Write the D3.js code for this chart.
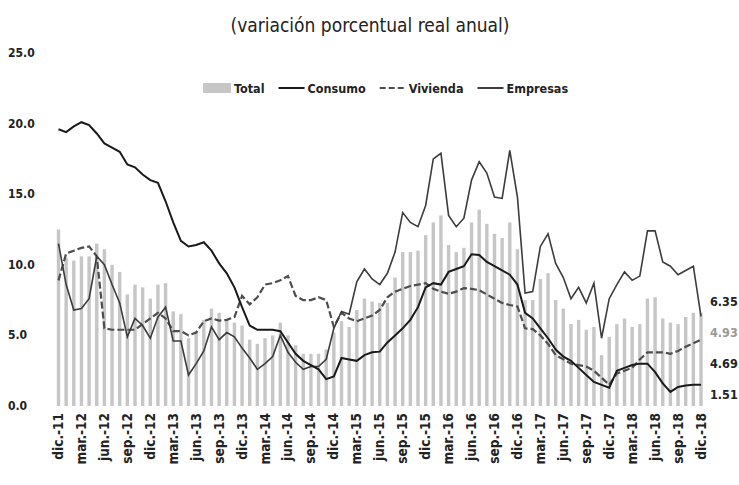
<!DOCTYPE html>
<html>
<head>
<meta charset="utf-8">
<script src="https://cdn.jsdelivr.net/npm/d3@7"></script>
<style>
  body { margin: 0; background: #fff; }
  text { font-family: "Liberation Sans Narrow", "DejaVu Sans Condensed", "Arial Narrow", "Liberation Sans", sans-serif; }
</style>
</head>
<body>
<div id="chart"></div>
<script>
var width = 739,
    height = 485;

// months dic-11 .. dic-18
var mesNames = ["ene.", "feb.", "mar.", "abr.", "may.", "jun.", "jul.", "ago.", "sep.", "oct.", "nov.", "dic."];
var months = ["dic.-11"];
for (var yy = 12; yy <= 18; yy++) {
    mesNames.forEach(function(m) { months.push(m + "-" + yy); });
}

var total = [12.5, 10.5, 10.3, 10.6, 10.6, 11.5, 11.1, 10.0, 9.5, 7.9,
    8.6, 8.4, 7.6, 8.6, 8.7, 6.7, 6.5, 4.8, 5.3, 6.1,
    6.9, 6.6, 6.1, 5.9, 5.7, 4.7, 4.4, 4.8, 5.0, 5.9,
    5.0, 4.3, 3.7, 3.7, 3.7, 4.0, 5.2, 6.0, 5.6, 6.8,
    7.6, 7.4, 7.3, 7.3, 9.1, 10.9, 10.9, 11.0, 12.1, 13.0,
    13.5, 11.4, 10.9, 11.2, 13.0, 13.9, 12.9, 12.2, 11.9, 13.0,
    11.1, 7.5, 7.5, 9.0, 9.4, 7.5, 6.9, 5.8, 6.1, 5.4,
    5.6, 3.6, 4.9, 5.8, 6.2, 5.6, 5.8, 7.6, 7.7, 6.2,
    5.9, 5.8, 6.3, 6.6, 6.6];

var consumo = [19.6, 19.4, 19.8, 20.1, 19.9, 19.3, 18.6, 18.3, 18.0, 17.1,
    16.9, 16.4, 16.0, 15.8, 14.5, 13.0, 11.7, 11.3, 11.4, 11.6,
    11.0, 10.1, 9.4, 8.4, 7.0, 5.7, 5.4, 5.4, 5.4, 5.3,
    4.5, 3.7, 3.2, 2.9, 2.6, 1.9, 2.1, 3.4, 3.3, 3.2,
    3.6, 3.8, 3.85, 4.5, 5.0, 5.5, 6.1, 7.0, 8.4, 8.7,
    8.6, 9.5, 9.7, 9.9, 10.75, 10.7, 10.2, 9.9, 9.6, 9.3,
    8.6, 6.6, 6.2, 5.5, 4.8, 4.0, 3.5, 3.2, 2.7, 2.2,
    1.7, 1.5, 1.3, 2.5, 2.7, 2.9, 3.0, 3.0, 2.4, 1.6,
    1.0, 1.35, 1.45, 1.5, 1.51];

var vivienda = [8.9, 10.8, 11.0, 11.2, 11.3, 10.6, 5.5, 5.4, 5.4, 5.4,
    5.4, 5.8, 6.2, 6.6, 6.2, 5.3, 5.3, 5.0, 5.2, 6.0,
    6.2, 6.05, 6.1, 6.3, 7.8, 7.2, 7.7, 8.6, 8.7, 8.9,
    9.2, 7.8, 7.5, 7.5, 7.7, 7.5, 5.6, 6.6, 6.2, 6.0,
    6.2, 6.4, 6.8, 7.7, 8.1, 8.3, 8.5, 8.6, 8.7, 8.3,
    8.1, 7.95, 8.1, 8.35, 8.3, 8.2, 7.9, 7.6, 7.3, 7.15,
    7.05, 5.5, 5.45, 5.0, 4.4, 3.6, 3.3, 3.0, 2.9, 2.8,
    2.5, 2.0, 1.5, 2.3, 2.5, 2.7, 3.3, 3.8, 3.8, 3.8,
    3.7, 3.9, 4.2, 4.45, 4.69];

var empresas = [11.5, 8.6, 6.8, 6.9, 7.6, 10.6, 10.0, 8.6, 7.3, 4.9,
    6.2, 5.7, 4.8, 6.3, 7.0, 4.6, 4.6, 2.2, 3.0, 3.9,
    5.6, 4.7, 5.2, 4.9, 4.1, 3.4, 2.6, 3.0, 3.5, 5.0,
    3.8, 3.1, 2.6, 2.8, 2.8, 3.3, 5.5, 6.7, 6.5, 8.8,
    9.7, 9.0, 8.6, 9.4, 10.9, 13.7, 13.0, 12.7, 14.2, 17.5,
    17.9, 13.5, 12.7, 13.3, 16.0, 17.3, 16.5, 14.8, 14.7, 18.1,
    14.8, 8.0, 8.1, 11.3, 12.2, 10.1, 9.1, 7.6, 8.4, 7.3,
    8.7, 4.8, 7.6, 8.6, 9.5, 8.9, 9.2, 12.4, 12.4, 10.2,
    9.9, 9.3, 9.6, 9.9, 6.35];

var yTicks = [0, 5, 10, 15, 20, 25];
var endLabels = ["6.35", "4.93", "4.69", "1.51"];
var endColors = ["#222", "#999", "#222", "#222"];

var svg = d3.select("#chart").append("svg")
    .attr("width", width)
    .attr("height", height);

var x = d3.scalePoint()
    .domain(months)
    .range([58.5, 701]);

var y = d3.scaleLinear()
    .domain([0, 25])
    .range([406, 53]);

// title
svg.append("text")
    .attr("x", 370).attr("y", 32)
    .attr("text-anchor", "middle")
    .style("font-size", "19px")
    .style("fill", "#222")
    .text("(variación porcentual real anual)");

// y labels
svg.selectAll(".ylab")
    .data(yTicks)
    .join("text")
    .attr("class", "ylab")
    .attr("x", 8)
    .attr("y", d => y(d) + 4)
    .style("font-size", "12px")
    .style("font-weight", "bold")
    .style("fill", "#222")
    .text(d => d.toFixed(1));

// bars
svg.selectAll(".bar")
    .data(total)
    .join("rect")
    .attr("class", "bar")
    .attr("x", (d, i) => x(months[i]) - 1.7)
    .attr("width", 3.4)
    .attr("y", d => y(d))
    .attr("height", d => y(0) - y(d))
    .attr("fill", "#c6c6c6");

var line = d3.line()
    .x((d, i) => x(months[i]))
    .y(d => y(d));

svg.append("path")
    .datum(vivienda)
    .attr("d", line)
    .attr("fill", "none")
    .attr("stroke", "#4d4d4d")
    .attr("stroke-width", 2.2)
    .attr("stroke-dasharray", "7,3");

svg.append("path")
    .datum(empresas)
    .attr("d", line)
    .attr("fill", "none")
    .attr("stroke", "#3c3c3c")
    .attr("stroke-width", 1.6);

svg.append("path")
    .datum(consumo)
    .attr("d", line)
    .attr("fill", "none")
    .attr("stroke", "#1a1a1a")
    .attr("stroke-width", 2);

// x labels every 3 months
var xlab = months.filter((m, i) => i % 3 == 0);
svg.selectAll(".xlab")
    .data(xlab)
    .join("text")
    .attr("class", "xlab")
    .attr("transform", d => "translate(" + (x(d) + 4.5) + ",413) rotate(-90)")
    .attr("text-anchor", "end")
    .style("font-size", "13.5px")
    .style("font-weight", "bold")
    .style("fill", "#222")
    .text(d => d);

// end value labels, stacked from the Empresas end point
var lastX = x(months[months.length - 1]);
var topY = y(empresas[empresas.length - 1]) - 10;
svg.selectAll(".endlab")
    .data(endLabels)
    .join("text")
    .attr("class", "endlab")
    .attr("x", lastX + 9)
    .attr("y", (d, i) => topY + i * 31)
    .style("font-size", "12.5px")
    .style("font-weight", "bold")
    .style("fill", (d, i) => endColors[i])
    .text(d => d);

// legend, laid out from measured text widths
var legend = svg.append("g").attr("transform", "translate(0,88)");
var items = [
    {name: "Total", type: "bar"},
    {name: "Consumo", type: "line", stroke: "#1a1a1a", dash: null},
    {name: "Vivienda", type: "line", stroke: "#4d4d4d", dash: "6,3"},
    {name: "Empresas", type: "line", stroke: "#3c3c3c", dash: null}
];
var cx = 203;
items.forEach(function(it, i) {
    var g = legend.append("g").attr("transform", "translate(" + cx + ",0)");
    var sw = it.type == "bar" ? 28 : 26;
    if (it.type == "bar") {
        g.append("rect").attr("x", 0).attr("y", -5).attr("width", sw).attr("height", 10).attr("fill", "#c6c6c6");
    } else {
        g.append("line").attr("x1", 0).attr("x2", sw).attr("y1", 0).attr("y2", 0)
            .attr("stroke", it.stroke).attr("stroke-width", 2)
            .attr("stroke-dasharray", it.dash);
    }
    var t = g.append("text")
        .attr("x", sw + 3)
        .attr("y", 4.5)
        .style("font-size", "12.5px")
        .style("font-weight", "bold")
        .style("fill", "#222")
        .text(it.name);
    cx += sw + 3 + t.node().getComputedTextLength() + 14;
});
</script>
</body>
</html>
